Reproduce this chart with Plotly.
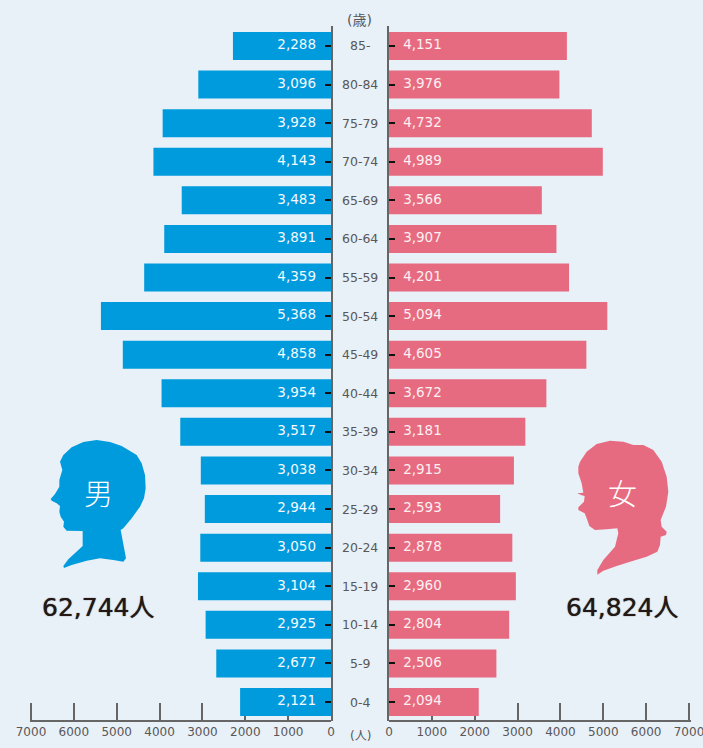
import plotly.graph_objects as go

W, H = 703, 748
age_groups = ["0-4","5-9","10-14","15-19","20-24","25-29","30-34","35-39","40-44","45-49","50-54","55-59","60-64","65-69","70-74","75-79","80-84","85-"]
male = [2121,2677,2925,3104,3050,2944,3038,3517,3954,4858,5368,4359,3891,3483,4143,3928,3096,2288]
female = [2094,2506,2804,2960,2878,2593,2915,3181,3672,4605,5094,4201,3907,3566,4989,4732,3976,4151]
x_ticks = [0,1000,2000,3000,4000,5000,6000,7000]
male_total = "62,744人"
female_total = "64,824人"

BG = "#E8F0F8"; BLUE = "#009BDD"; PINK = "#E76B80"; GREY = "#666666"; TXT = "#595757"; DARK = "#231815"
FONT = "DejaVu Sans, Noto Sans CJK JP"
CJK = "Noto Sans CJK JP"

# silhouette outlines, traced in zoomed crop pixels (3x)
male_outline = [(180,125),(190,105),(215,82),(250,66),(290,60),(330,66),(365,78),(385,90),(410,105),(425,130),(435,165),(437,205),(432,235),(420,260),(395,295),(370,325),(362,330),(378,415),(370,425),(340,420),(300,415),(260,422),(215,435),(192,444),(190,438),(205,418),(248,378),(248,333),(200,332),(190,320),(192,305),(182,290),(178,275),(180,258),(170,250),(155,242),(152,237),(165,222),(178,200),(178,180),(187,150)]
female_outline = [(115,140),(120,125),(140,95),(170,72),(210,62),(250,65),(280,75),(310,75),(340,90),(365,125),(380,170),(385,215),(378,260),(362,300),(365,320),(380,335),(378,345),(362,350),(360,375),(352,395),(320,410),(280,422),(230,438),(190,452),(172,464),(172,450),(190,420),(225,380),(235,340),(232,325),(200,328),(165,330),(148,318),(140,295),(134,280),(115,270),(115,262),(132,245),(134,228),(125,226),(112,220),(130,218),(125,190),(115,160)]

def px(x): return x / W
def py(y): return 1 - y / H

def path(points, ox, oy):
    s = []
    for i, (a, b) in enumerate(points):
        s.append(("M" if i == 0 else "L") + f"{px(ox + a/3):.5f},{py(oy + b/3):.5f}")
    return " ".join(s) + " Z"

BAR_W = 0.7256
fig = go.Figure()
fig.add_bar(y=age_groups, x=male, orientation="h", marker=dict(color=BLUE, line_width=0), xaxis="x", yaxis="y", width=BAR_W)
fig.add_bar(y=age_groups, x=female, orientation="h", marker=dict(color=PINK, line_width=0), xaxis="x2", yaxis="y2", width=BAR_W)
fig.add_scatter(y=age_groups, x=[350]*len(male), mode="text", text=[f"{v:,}" for v in male], textposition="middle left",
                textfont=dict(color="#F4F9FD", size=13.5, family=FONT), xaxis="x", yaxis="y", cliponaxis=False)
fig.add_scatter(y=age_groups, x=[330]*len(female), mode="text", text=[f"{v:,}" for v in female], textposition="middle right",
                textfont=dict(color="#FCF0F2", size=13.5, family=FONT), xaxis="x2", yaxis="y2", cliponaxis=False)

common_x = dict(tickvals=x_ticks, ticktext=[str(t) for t in x_ticks], ticks="inside", ticklen=17, tickwidth=1.5, tickcolor=GREY,
                showline=True, linecolor=GREY, linewidth=1.5, showgrid=False, zeroline=False, layer="below traces",
                tickfont=dict(size=12, color=TXT, family=FONT), anchor="free", position=(H-721)/H, side="bottom",
                ticklabeloverflow="allow")
common_y = dict(categoryorder="array", categoryarray=age_groups, type="category", range=[-0.492, 17.517],
                domain=[(H-721)/H, (H-26)/H], showgrid=False, zeroline=False, showline=True, linecolor=GREY, linewidth=1.5,
                ticks="inside", ticklen=6, tickwidth=2, tickcolor="#111111", showticklabels=False)

annotations = [dict(x=px(360), y=g, xref="paper", yref="y", text=g, showarrow=False, font=dict(size=12.5, color=TXT, family=FONT), xanchor="center", yanchor="middle") for g in age_groups]
def note(x, y, text, size, color, family=FONT, **font_extra):
    return dict(x=px(x), y=py(y), xref="paper", yref="paper", text=text, showarrow=False, font=dict(size=size, color=color, family=family, **font_extra), xanchor="center", yanchor="middle")
annotations += [
    note(359, 20, "(歳)", 14, TXT), note(360, 736, "(人)", 12, TXT),
    note(98, 607, male_total, 25, DARK, shadow="0 0 1px #231815"), note(622, 607, female_total, 25, DARK, shadow="0 0 1px #231815"),
    note(98, 492, "男", 29, "white", CJK, weight=300), note(622, 492, "女", 29, "white", CJK, weight=300),
]

EXT = 35  # a little headroom so the 7000 tick is not clipped at the axis end
fig.update_layout(
    width=W, height=H, margin=dict(l=0, r=0, t=0, b=0, autoexpand=False), paper_bgcolor=BG, plot_bgcolor=BG, showlegend=False,
    barmode="overlay", font=dict(family=FONT),
    xaxis=dict(domain=[29.5/W, 331/W], range=[7000+EXT, 0], **common_x),
    xaxis2=dict(domain=[389/W, 690.5/W], range=[0, 7000+EXT], **common_x),
    yaxis=dict(anchor="x", side="right", **common_y),
    yaxis2=dict(anchor="x2", side="left", **common_y),
    annotations=annotations,
    shapes=[
        dict(type="path", xref="paper", yref="paper", path=path(male_outline, 0, 420), fillcolor=BLUE, line_width=0, layer="below"),
        dict(type="path", xref="paper", yref="paper", path=path(female_outline, 540, 420), fillcolor=PINK, line_width=0, layer="below"),
    ],
)
fig.write_html("out.html", config=dict(displayModeBar=False),
               post_script="document.body.style.margin='0';document.documentElement.style.overflow='hidden';")
